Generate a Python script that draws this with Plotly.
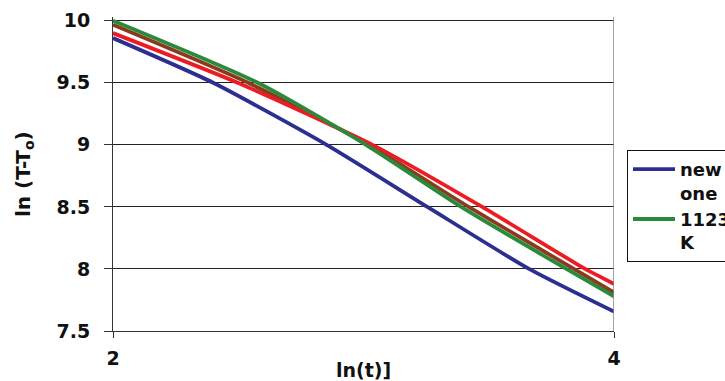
import plotly.graph_objects as go

# Data (ln(t) vs ln(T-To))
blue_x = [2.0, 2.40, 2.853, 3.255, 3.661, 4.0]
blue_y = [9.86, 9.5, 9.0, 8.5, 8.0, 7.656]

green_x = [2.0, 2.578, 3.01, 3.39, 3.81, 4.0]
green_y = [10.0, 9.5, 9.0, 8.5, 8.0, 7.78]

brown_x = [2.0, 2.54, 3.02, 3.42, 3.84, 4.0]
brown_y = [9.968, 9.5, 9.0, 8.5, 8.0, 7.81]

red_x = [2.0, 2.498, 3.036, 3.474, 3.885, 4.0]
red_y = [9.90, 9.5, 9.0, 8.5, 8.0, 7.879]

y_ticks = [7.5, 8, 8.5, 9, 9.5, 10]
y_tick_text = ["7.5", "8", "8.5", "9", "9.5", "10"]
x_ticks = [2, 4]
x_tick_text = ["2", "4"]

FONT = "DejaVu Sans, Arial, sans-serif"

fig = go.Figure()
series = [
    (brown_x, brown_y, "#8b3a1e", "brown", False),
    (red_x, red_y, "#ec1c24", "red", False),
    (green_x, green_y, "#2a8a3c", "1123<br>K", True),
    (blue_x, blue_y, "#2c2f8f", "new<br>one", True),
]
for xs, ys, col, name, show in series:
    fig.add_trace(go.Scatter(
        x=xs, y=ys, mode="lines", name=name, showlegend=show,
        line=dict(color=col, width=3.8, shape="spline", smoothing=0.6),
    ))

PT, PB = 17, 50
ph = 381 - PT - PB

fig.update_layout(
    width=725, height=381,
    paper_bgcolor="white", plot_bgcolor="white",
    margin=dict(l=113, r=111, t=PT, b=PB, autoexpand=False),
    font=dict(family=FONT, size=18, color="#111"),
    legend=dict(
        xref="container", yref="container",
        x=627/725, y=1-150/381, xanchor="left", yanchor="top",
        bordercolor="#111", borderwidth=1, bgcolor="white",
        font=dict(family=FONT, size=18, color="#111", weight="bold"),
        valign="top", traceorder="reversed", tracegroupgap=0,
        itemwidth=42,
    ),
    xaxis=dict(
        range=[2, 4], tickvals=x_ticks, ticktext=x_tick_text,
        showgrid=False, zeroline=False,
        showline=True, linecolor="#333", linewidth=1,
        ticks="outside", ticklen=6, tickcolor="#333", ticklabelstandoff=4,
        tickfont=dict(family=FONT, size=19, weight="bold"),
    ),
    yaxis=dict(
        range=[7.5, 10.03], tickvals=y_ticks, ticktext=y_tick_text,
        showgrid=True, gridcolor="#222", gridwidth=1, zeroline=False,
        showline=True, linecolor="#333", linewidth=1, mirror=False,
        ticks="outside", ticklen=8, tickcolor="#333", ticklabelstandoff=10,
        tickfont=dict(family=FONT, size=19, weight="bold"),
    ),
    annotations=[
        dict(text="<b>ln(t)]</b>", xref="paper", yref="paper",
             x=0.5, y=-(370 - (381 - PB)) / ph, xanchor="center", yanchor="middle",
             showarrow=False, font=dict(family=FONT, size=19, color="#111")),
        dict(text="<b>ln (T-T<sub>o</sub>)</b>", xref="paper", yref="paper",
             x=(24 - 113) / 501, y=0.5, xanchor="center", yanchor="middle",
             textangle=-90, showarrow=False,
             font=dict(family=FONT, size=20, color="#111")),
    ],
)

# right border of plot area
fig.add_shape(type="line", xref="x", yref="paper", x0=4, x1=4, y0=0, y1=1,
              line=dict(color="#8a8080", width=1.5), layer="above")

fig.write_html("out.html", config={"displayModeBar": False},
               post_script="document.body.style.margin='0';document.body.style.overflow='hidden';")
